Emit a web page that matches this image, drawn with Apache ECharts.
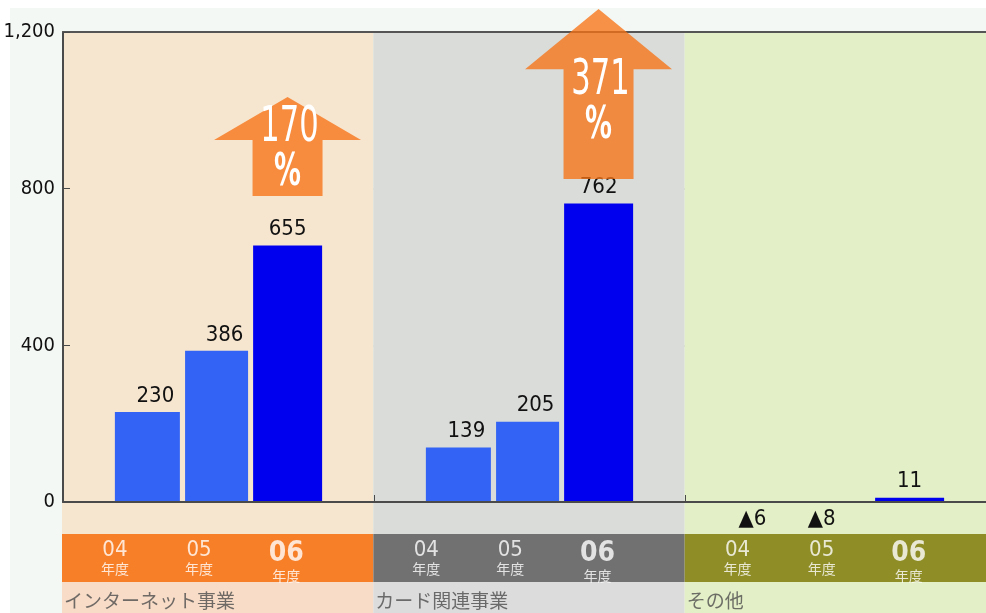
<!DOCTYPE html>
<html><head><meta charset="utf-8">
<script src="https://cdn.jsdelivr.net/npm/echarts@6/dist/echarts.min.js"></script>
<style>html,body{margin:0;padding:0;background:#fff}#c{width:986px;height:613px}</style>
</head><body><div id="c"></div>
<script>
// ---- data ----
const segments = ['インターネット事業', 'カード関連事業', 'その他'];
const years = ['04', '05', '06'];
const yearUnit = '年度';
const v04 = [230, 139, -6];
const v05 = [386, 205, -8];
const v06 = [655, 762, 11];
const yMin = 0, yMax = 1200, yStep = 400;
// growth arrows (data units on the value axis)
const arrowSeg = [0, 1];
const arrowPct = ['170', '371'];
const arrowBottom = [781, 825];
const arrowHeadBase = [924, 1105];
const arrowTip = [1034, 1259];
const arrowTextAt = [955, 1075];

// ---- style / layout constants ----
const NARROW = '"Liberation Sans Narrow","DejaVu Sans Condensed","Arial Narrow",sans-serif';
const JP = '"Noto Sans CJK JP","Noto Sans",sans-serif';
const L = 63, W = 933;
const BAR06_FRAC = 0.722;
const YEAR_FRAC = [0.17, 0.44, 0.72];
const BG = ['#f7e6cf', '#d9dcd9', '#e3efc6'];
const BAND = ['#f77f28', '#717171', '#8e8d26'];
const NAMEBG = ['#f8dcc7', '#dcdcdc', '#e3efc6'];
const AXIS = '#4a4a4a';

const chart = echarts.init(document.getElementById('c'));

function fmtVal(v) { return v < 0 ? '▲' + Math.abs(v) : String(v); }
function barData(vals, off) {
  return vals.map(v => v < 0
    ? { value: v, itemStyle: { color: 'rgba(0,0,0,0)' }, label: { position: 'bottom', distance: 6, offset: [-17, 0], fontSize: 22 } }
    : { value: v, label: { offset: off } });
}
const barLabel = { show: true, position: 'top', distance: 5, fontFamily: NARROW, fontSize: 22, color: '#111',
  formatter: p => fmtVal(p.value) };

function hiddenValueX(grid, colors) {
  return { type: 'value', gridIndex: grid, min: 0, max: 3, interval: 1,
    axisLine: { show: false }, axisTick: { show: false }, axisLabel: { show: false },
    splitLine: { show: false }, splitArea: { show: true, areaStyle: { color: colors } } };
}
function hiddenY(grid) {
  return { type: 'value', gridIndex: grid, min: 0, max: 1, show: false };
}

const yearLabelData = [];
segments.forEach((s, i) => years.forEach((y, j) => {
  yearLabelData.push({ value: [i + YEAR_FRAC[j], 0.5], name: y,
    label: j === 2 ? { formatter: '{b|' + y + '}\n{u|' + yearUnit + '}', offset: [0, 4] } : { formatter: '{a|' + y + '}\n{u|' + yearUnit + '}' } });
}));

const gridBase = { outerBoundsMode: 'none', containLabel: false };
const option = {
  backgroundColor: '#f4f8f4',
  animation: false,
  graphic: [
    { type: 'rect', shape: { x: 0, y: 0, width: 986, height: 8 }, style: { fill: '#fff' }, silent: true },
    { type: 'rect', shape: { x: 0, y: 0, width: 10, height: 613 }, style: { fill: '#fff' }, silent: true }
  ],
  grid: [
    Object.assign({ left: L, width: W, top: 32, height: 470 }, gridBase),
    Object.assign({ left: L - 1, width: W + 1, top: 32, height: 502 }, gridBase),
    Object.assign({ left: L - 1, width: W + 1, top: 534, height: 48 }, gridBase),
    Object.assign({ left: L - 1, width: W + 1, top: 582, height: 31 }, gridBase)
  ],
  xAxis: [
    { type: 'category', gridIndex: 0, data: segments, position: 'bottom',
      axisLine: { lineStyle: { color: AXIS, width: 2 } },
      axisTick: { show: true, inside: true, length: 7, lineStyle: { color: AXIS } },
      axisLabel: { show: false }, splitLine: { show: false }, z: 5 },
    { type: 'category', gridIndex: 0, data: segments, position: 'top',
      axisLine: { lineStyle: { color: '#555', width: 2 } },
      axisTick: { show: false }, axisLabel: { show: false }, splitLine: { show: false } },
    hiddenValueX(1, BG),
    hiddenValueX(2, BAND),
    hiddenValueX(3, NAMEBG)
  ],
  yAxis: [
    { type: 'value', gridIndex: 0, min: yMin, max: yMax, interval: yStep,
      axisLine: { show: true, lineStyle: { color: AXIS, width: 2 } },
      axisTick: { show: true, inside: true, length: 7, lineStyle: { color: AXIS } },
      axisLabel: { fontFamily: NARROW, fontSize: 20, color: '#111', margin: 8,
        formatter: v => v.toLocaleString('en-US') },
      splitLine: { show: true, lineStyle: { color: '#bdbdbd', type: 'dotted', width: 1.5 } } },
    hiddenY(1), hiddenY(2), hiddenY(3)
  ],
  series: [
    { type: 'bar', name: years[0], xAxisIndex: 0, yAxisIndex: 0, data: barData(v04, [8, 0]),
      barWidth: 65, barGap: '8%', itemStyle: { color: '#3263f5' }, label: barLabel },
    { type: 'bar', name: years[1], xAxisIndex: 0, yAxisIndex: 0, data: barData(v05, [8, 0]),
      barWidth: 63, barGap: '8%', itemStyle: { color: '#3263f5' }, label: barLabel },
    { type: 'bar', name: years[2], xAxisIndex: 0, yAxisIndex: 0, data: barData(v06, [0, 0]),
      barWidth: 69, barGap: '8%', itemStyle: { color: '#0000ef' }, label: barLabel },
    { type: 'custom', name: 'growth', xAxisIndex: 0, yAxisIndex: 0, clip: false, z: 4,
      data: arrowSeg.map((s, i) => [s, arrowBottom[i], arrowHeadBase[i], arrowTip[i], arrowTextAt[i]]),
      renderItem: (params, api) => {
        const seg = api.value(0);
        const p0 = api.coord([seg, api.value(1)]);
        const bw = api.size([1, 0])[0];
        const cx = p0[0] + bw * (BAR06_FRAC - 0.5);
        const yB = p0[1];
        const yH = api.coord([seg, api.value(2)])[1];
        const yT = api.coord([seg, api.value(3)])[1];
        const yTx = api.coord([seg, api.value(4)])[1];
        const sh = 35, hh = 73.5;
        const txt = { x: 0, y: 0, fill: '#fff', align: 'center', verticalAlign: 'middle',
          textShadowColor: '#333', textShadowOffsetX: 1.5, textShadowOffsetY: 1.5, textShadowBlur: 0 };
        return { type: 'group', children: [
          { type: 'polygon', shape: { points: [[cx - sh, yB], [cx - sh, yH], [cx - hh, yH], [cx, yT], [cx + hh, yH], [cx + sh, yH], [cx + sh, yB]] },
            style: { fill: 'rgba(247,113,19,0.77)' } },
          { type: 'text', x: cx + 2, y: yTx, scaleX: 0.68,
            style: Object.assign({ text: arrowPct[params.dataIndex], font: '50px ' + NARROW }, txt) },
          { type: 'text', x: cx, y: yTx + 46, scaleX: 0.68,
            style: Object.assign({ text: '%', font: 'bold 44px ' + NARROW }, txt) }
        ] };
      } },
    { type: 'scatter', name: 'yearLabels', xAxisIndex: 3, yAxisIndex: 2, symbolSize: 0, silent: true,
      data: yearLabelData,
      label: { show: true, position: 'inside', color: '#fff',
        rich: {
          a: { fontFamily: NARROW, fontSize: 22, color: '#fff', lineHeight: 22 },
          b: { fontFamily: NARROW, fontSize: 28, fontWeight: 'bold', color: '#fff', lineHeight: 27 },
          u: { fontFamily: JP, fontSize: 14, color: '#fff', lineHeight: 16 }
        } } },
    { type: 'scatter', name: 'segNames', xAxisIndex: 4, yAxisIndex: 3, symbolSize: 0, silent: true,
      data: segments.map((s, i) => ({ value: [i, 0.5], name: s })),
      label: { show: true, position: 'right', distance: 2, offset: [0, 3], formatter: '{b}',
        fontFamily: JP, fontSize: 19, color: '#4d4d4d' } }
  ]
};
chart.setOption(option);
</script>
</body></html>
